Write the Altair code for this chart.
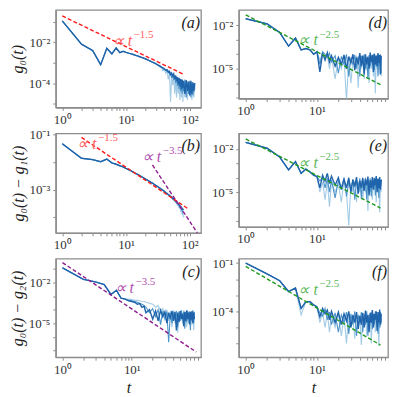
import altair as alt
import pandas as pd

# ---------------- data ----------------
T80 = [1, 2, 3, 4, 5, 6, 7, 8, 9, 10, 11, 12, 13, 14, 15, 16, 18, 20, 22, 24, 26, 28, 30,
       32, 34, 36, 38, 40, 42, 44, 46, 48, 50, 52, 54, 56, 58, 60, 62, 64, 66, 68, 70, 72,
       74, 76, 78, 80]
T120 = T80 + [84, 88, 92, 96, 100, 104, 108, 112, 116, 120]

# panel (a): g0(t)
A_head = [1.1e-1, 8e-3, 3.9e-3, 8e-4, 5e-3, 2.7e-3, 5.2e-3, 3.1e-3, 3.6e-3, 3.2e-3, 2.9e-3,
          2.7e-3, 2.5e-3, 2.3e-3, 2.15e-3, 2.0e-3, 1.75e-3, 1.55e-3, 1.35e-3, 1.2e-3,
          1.05e-3, 9.5e-4, 8.5e-4]
A_dark = [7.6e-4, 6.9e-4, 6.1e-4, 5.6e-4, 5.0e-4, 4.3e-4, 4.6e-4, 3.5e-4, 3.8e-4, 2.6e-4,
          3.1e-4, 2.2e-4, 2.8e-4, 1.6e-4, 2.4e-4, 1.3e-4, 2.0e-4, 9e-5, 1.8e-4, 7e-5,
          1.6e-4, 5e-5, 1.5e-4, 6e-5, 1.3e-4, 3e-5, 1.4e-4, 4e-5, 1.2e-4, 2.5e-5,
          1.3e-4, 3e-5, 1.1e-4, 4e-5, 1.0e-4]
A_mid = [7.2e-4, 6.5e-4, 6.2e-4, 5.0e-4, 4.6e-4, 4.4e-4, 3.6e-4, 3.9e-4, 2.8e-4, 3.2e-4,
         1.8e-4, 2.7e-4, 1.4e-4, 2.2e-4, 1.0e-4, 2.0e-4, 7e-5, 1.7e-4, 5e-5, 1.5e-4,
         4e-5, 1.4e-4, 3e-5, 1.2e-4, 4e-5, 1.5e-4, 2e-5, 1.2e-4, 3e-5, 1.3e-4,
         2e-5, 1.1e-4, 2.5e-5, 1.0e-4, 5e-5]
A_light = [7.8e-4, 6.0e-4, 5.5e-4, 4.0e-4, 4.8e-4, 3.0e-4, 4.0e-4, 1.5e-4, 3.2e-4, 1.2e-5,
           2.5e-4, 8e-5, 2.0e-4, 3e-5, 1.8e-4, 2e-5, 1.5e-4, 3e-5, 1.3e-4, 1.5e-5,
           1.2e-4, 2e-5, 1.4e-4, 1.2e-5, 1.1e-4, 2e-5, 1.2e-4, 1.5e-5, 1e-4, 3e-5,
           1.1e-4, 1.5e-5, 9e-5, 2e-5, 8e-5]
A_fit_t = [1, 80]
A_fit_v = [0.19, 2.7e-4]

# panel (b): g0(t) - g1(t)
B_head = [4.7e-2, 1.4e-2, 1.25e-2, 1.05e-2, 1.3e-2, 9.5e-3, 8.5e-3, 7.5e-3, 6.8e-3, 6.0e-3,
          5.4e-3, 4.9e-3, 4.4e-3, 4.0e-3, 3.7e-3, 3.4e-3, 2.9e-3, 2.5e-3, 2.2e-3, 1.95e-3,
          1.75e-3, 1.55e-3, 1.4e-3, 1.27e-3, 1.15e-3, 1.05e-3, 9.6e-4, 8.8e-4]
B_dark = [8.0e-4, 7.4e-4, 6.8e-4, 6.3e-4, 5.8e-4, 5.4e-4, 5.0e-4, 4.7e-4, 4.3e-4, 4.0e-4,
          3.7e-4, 3.4e-4, 3.2e-4, 2.9e-4, 2.7e-4, 2.5e-4, 2.3e-4, 2.15e-4, 2.0e-4, 1.85e-4]
B_mid = [7.8e-4, 7.5e-4, 6.5e-4, 6.4e-4, 5.4e-4, 5.5e-4, 4.6e-4, 4.8e-4, 3.9e-4, 4.0e-4,
         3.3e-4, 3.4e-4, 2.8e-4, 2.9e-4, 2.3e-4, 2.4e-4, 1.9e-4, 2.0e-4, 1.5e-4, 1.6e-4]
B_light = [7.6e-4, 7.0e-4, 6.6e-4, 5.8e-4, 5.6e-4, 4.9e-4, 4.7e-4, 4.1e-4, 4.0e-4, 3.4e-4,
           3.3e-4, 2.8e-4, 2.7e-4, 2.2e-4, 2.2e-4, 1.7e-4, 1.8e-4, 1.3e-4, 1.4e-4, 1.0e-4]
B_fit1_t = [2, 93]
B_fit1_v = [0.08, 2.1e-4]
B_fit2_t = [26, 135]
B_fit2_v = [8e-3, 2.5e-5]

# panel (c): g0(t) - g2(t)
C_head = [1.2e-1, 1.7e-2, 1.1e-2, 7e-3, 1.3e-3, 2.7e-3, 7e-4, 6e-4]
C_dark = [4.5e-4, 4e-4, 3.5e-4, 2.5e-4, 2.8e-4, 1.5e-4, 1.8e-4, 6e-5, 1e-4, 2e-5,
          8e-5, 1.5e-5, 9e-5, 3e-5, 7e-5, 1e-5, 6e-5, 2e-5, 8e-5, 1.5e-5,
          7e-5, 3e-6, 6e-5, 1.2e-5, 8e-5, 2e-5, 5e-5, 6e-6, 7e-5, 1.5e-5,
          9e-5, 2e-5, 6e-5, 8e-6, 7e-5, 1.8e-5, 8e-5, 1e-5, 6e-5, 2e-5]
C_mid = [5e-4, 4.5e-4, 4e-4, 3.5e-4, 3e-4, 2.5e-4, 2e-4, 1.5e-4, 6e-5, 1.2e-4,
         3e-5, 1e-4, 8e-6, 8e-5, 2e-5, 7e-5, 4e-7, 6e-5, 1e-5, 7e-5,
         2e-5, 8e-5, 5e-6, 7e-5, 1.5e-5, 9e-5, 2e-5, 7e-5, 4e-6, 6e-5,
         1.2e-5, 8e-5, 2.5e-5, 7e-5, 3e-6, 6e-5, 1.5e-5, 9e-5, 1e-5, 7e-5]
C_light = [6e-4, 5.5e-4, 5e-4, 4.8e-4, 4.5e-4, 4.2e-4, 4e-4, 3.5e-4, 3e-4, 2.5e-4,
           1.5e-4, 2e-4, 8e-5, 1.2e-4, 3e-5, 1e-4, 1.5e-5, 8e-5, 5e-6, 9e-5,
           1e-5, 7e-5, 2e-6, 8e-5, 2e-5, 6e-5, 1e-5, 9e-5, 2e-5, 7e-5,
           5e-6, 6e-5, 1e-5, 8e-5, 2e-5, 7e-5, 8e-6, 6e-5, 3e-6, 5e-5]
C_fit_t = [1, 85]
C_fit_v = [0.29, 7.6e-8]

# panel (d)
D_head = [2.8e-2, 1.25e-2, 3.2e-3, 3.6e-4, 1.3e-3, 2e-4, 2.5e-4, 2e-4, 1e-4, 1.5e-4]
D_dark = [6e-6, 1.2e-4, 4e-5, 1.3e-4, 3e-5, 8e-5, 1.5e-5, 6e-5, 2e-5, 9e-5,
          1e-5, 7e-5, 2.5e-5, 1e-4, 8e-6, 6e-5, 2e-5, 1.2e-4, 1.5e-5, 8e-5,
          4e-6, 1e-4, 2e-5, 7e-5, 1e-5, 1.3e-4, 3e-5, 9e-5, 6e-6, 1.1e-4,
          2e-5, 8e-5, 1.5e-5, 1.2e-4, 2.5e-5, 9e-5, 4e-6, 8e-5]
D_mid = [2e-5, 1.5e-4, 1e-4, 6e-5, 1.2e-4, 3e-5, 8e-5, 5e-6, 7e-5, 2e-5,
         1e-4, 3e-6, 6e-5, 2e-5, 9e-5, 1e-5, 7e-5, 3e-6, 8e-5, 2e-5,
         1e-4, 1e-5, 6e-5, 2e-6, 9e-5, 1.5e-5, 7e-5, 2e-5, 1e-4, 8e-6,
         8e-5, 1.5e-5, 9e-5, 3e-6, 7e-5, 2e-5, 1e-4, 5e-6]
D_light = [4e-5, 1e-4, 6e-5, 9e-5, 1e-5, 7e-5, 2e-6, 5e-5, 1e-5, 6e-5,
           6e-8, 5e-5, 1e-6, 4e-5, 2e-5, 8e-5, 5e-7, 6e-5, 1e-5, 7e-5,
           2e-6, 5e-5, 8e-6, 6e-5, 1e-6, 4e-5, 1e-5, 7e-5, 3e-6, 5e-5,
           2e-7, 6e-5, 1e-5, 5e-5, 4e-6, 7e-5, 1e-5, 3e-6]
D_fit_t = [1, 78]
D_fit_v = [0.052, 8e-7]

# panel (e)
E_head = [2.8e-2, 1.1e-2, 2.7e-3, 3.5e-4, 1.3e-3, 2e-4, 4e-4, 2.5e-4, 1.5e-4, 1.2e-4]
E_dark = [2e-5, 1.5e-4, 6e-5, 2e-4, 4e-5, 1.3e-4, 3e-5, 1e-4, 1.5e-5, 8e-5,
          2e-5, 1e-4, 1e-5, 7e-5, 2.5e-5, 1.1e-4, 8e-6, 6e-5, 2e-5, 1e-4,
          1.2e-5, 8e-5, 3e-5, 1.2e-4, 6e-6, 7e-5, 2e-5, 1.1e-4, 1.5e-5, 9e-5,
          3e-5, 1.3e-4, 1e-5, 8e-5, 2e-5, 1.1e-4, 1.5e-5, 7e-5]
E_mid = [6e-5, 1e-4, 2e-5, 9e-5, 1e-5, 7e-5, 4e-6, 6e-5, 2e-5, 9e-5,
         5e-6, 5e-5, 1.5e-5, 8e-5, 3e-6, 6e-5, 2e-5, 9e-5, 4e-6, 7e-5,
         1.5e-5, 1e-4, 3e-6, 6e-5, 2e-5, 9e-5, 5e-6, 7e-5, 2e-5, 1e-4,
         6e-6, 6e-5, 2e-5, 9e-5, 4e-6, 6e-5, 2e-5, 8e-5]
E_light = [1e-5, 5e-5, 3e-6, 6e-5, 1e-6, 5e-5, 1e-5, 4e-5, 2e-6, 6e-5,
           1e-5, 5e-8, 4e-5, 1e-5, 6e-5, 2e-6, 5e-5, 1e-5, 7e-5, 3e-6,
           5e-5, 1e-5, 6e-5, 5e-7, 5e-5, 1e-5, 6e-5, 3e-6, 5e-5, 1.5e-5,
           7e-5, 2e-6, 5e-5, 1e-5, 6e-5, 4e-7, 5e-5, 1e-5]
E_fit_t = [1, 78]
E_fit_v = [0.048, 8e-7]

# panel (f)
F_head = [1.0e-1, 2.1e-2, 8e-3, 1.7e-3, 2.8e-3, 1.5e-4, 4e-4, 4e-4, 2.5e-4, 1.9e-4]
F_head_light = [1.0e-1, 2.1e-2, 8e-3, 1.7e-3, 2.8e-3, 6e-5, 4e-4, 3.5e-4, 2.5e-4, 1.9e-4]
F_dark = [4.5e-5, 1.5e-4, 7e-5, 1.2e-4, 3e-5, 1e-4, 2e-5, 9e-5, 1.5e-5, 7e-5,
          2.5e-5, 1e-4, 1e-5, 6e-5, 2e-5, 9e-5, 8e-6, 5e-5, 1.5e-5, 8e-5,
          1e-5, 1.1e-4, 2e-5, 6e-5, 5e-6, 8e-5, 2e-5, 1.2e-4, 1e-5, 7e-5,
          3e-5, 1e-4, 6e-6, 9e-5, 2e-5, 1.3e-4, 1.5e-5, 7e-5]
F_mid = [8e-5, 5e-5, 1.5e-4, 3e-5, 9e-5, 1.5e-5, 8e-5, 5e-6, 6e-5, 2e-5,
         9e-5, 4e-6, 7e-5, 1.5e-5, 1e-4, 3e-6, 6e-5, 2e-5, 9e-5, 5e-6,
         7e-5, 1.5e-5, 1e-4, 3e-6, 6e-5, 2e-5, 9e-5, 8e-6, 7e-5, 1.5e-5,
         1e-4, 2e-5, 6e-5, 4e-6, 8e-5, 1e-5, 9e-5, 2e-5]
F_light = [2e-5, 9e-5, 1e-5, 8e-5, 5e-6, 6e-5, 1e-5, 7e-5, 3e-6, 5e-5,
           1e-6, 6e-5, 1e-5, 4e-5, 2e-6, 5e-5, 1e-5, 6e-5, 8e-7, 4e-5,
           1e-5, 6e-5, 3e-6, 5e-5, 1e-5, 7e-5, 1e-6, 4e-5, 1e-5, 6e-5,
           5e-6, 5e-5, 1e-5, 6e-5, 7e-7, 5e-5, 1e-5, 4e-5]
F_fit_t = [1, 78]
F_fit_v = [0.062, 8e-7]

X_TICKS = [1, 2, 3, 4, 5, 6, 7, 8, 9, 10, 20, 30, 40, 50, 60, 70, 80, 90, 100, 200]

# ---------------- styling ----------------
SERIF = "Liberation Serif"
DARK, MID, LIGHT = "#1f63ab", "#4b93c9", "#a3cbe6"
RED, PURPLE, GREEN = "#ff1a1a", "#8e1b8e", "#1f9a1f"
RED_T, PURPLE_T, GREEN_T = "#ff5c5c", "#b050b0", "#5cb85c"
SUP = "⁰¹²³⁴⁵⁶⁷⁸⁹"


def label_expr(labels=None):
    e = "round(log(datum.value)/LN10)"
    txt = f"'10' + ({e} < 0 ? '⁻' : '') + substring('{SUP}', abs({e}), abs({e}) + 1)"
    if labels is None:
        cond = f"abs(log(datum.value)/LN10 - {e}) < 0.001"
    else:
        cond = "indexof([" + ",".join(repr(v) for v in labels) + "], datum.value) >= 0"
    return f"({cond}) ? ({txt}) : ''"


def panel(t_all, heads, tails, fits, annos, letter, xdom, ydom, yticks, ylabels,
          ytitle, xtitle, w, h):
    n_head = len(heads[0])
    xt = [v for v in X_TICKS if xdom[0] <= v <= xdom[1]]
    xenc = alt.X("t:Q", scale=alt.Scale(type="log", domain=xdom),
                 axis=alt.Axis(values=xt, labelExpr=label_expr(), title=xtitle))
    yenc = alt.Y("v:Q", scale=alt.Scale(type="log", domain=ydom),
                 axis=alt.Axis(values=yticks, labelExpr=label_expr(ylabels), title=ytitle))
    layers = []
    for (tail, color, sw), head in zip(tails, heads):
        df = pd.DataFrame({"t": t_all[:n_head + len(tail)], "v": head + tail})
        layers.append(alt.Chart(df).mark_line(color=color, strokeWidth=sw, clip=True)
                      .encode(x=xenc, y=yenc))
    for ft, fv, fc in fits:
        df = pd.DataFrame({"t": ft, "v": fv})
        layers.append(alt.Chart(df).mark_line(color=fc, strokeWidth=1.4, strokeDash=[4, 2.2],
                                              clip=True).encode(x=xenc, y=yenc))
    for at, av, exp, col in annos:
        df = pd.DataFrame({"t": [at], "v": [av]})
        layers.append(alt.Chart(df).mark_text(text="∝ t", align="left", baseline="middle",
                                              font=SERIF, fontSize=16, fontStyle="italic",
                                              color=col).encode(x=xenc, y=yenc))
        layers.append(alt.Chart(df).mark_text(text=exp, align="left", baseline="middle",
                                              font=SERIF, fontSize=11, dx=21, dy=-6,
                                              color=col).encode(x=xenc, y=yenc))
    lab = pd.DataFrame({"k": [0]})
    layers.append(alt.Chart(lab).mark_text(text=letter, align="right", baseline="middle",
                                           font=SERIF, fontSize=16, fontStyle="italic",
                                           color="#222")
                  .encode(x=alt.value(w - 1), y=alt.value(13)))
    return alt.layer(*layers).properties(width=w, height=h)


WL, WR = 146, 150
XR = [0.8, 99.5]

pa = panel(T120, [A_head] * 3,
           [(A_light, LIGHT, 1.1), (A_mid, MID, 1.1), (A_dark, DARK, 1.4)],
           [(A_fit_t, A_fit_v, RED)],
           [(6.2, 1.1e-2, "−1.5", RED_T)], "(a)",
           [0.79, 150], [10 ** -5.19, 10 ** -0.43],
           [1e-1, 1e-2, 1e-3, 1e-4, 1e-5], [1e-2, 1e-4], "g₀(t)", None, WL, 98)

pb = panel(T80, [B_head] * 3,
           [(B_light, LIGHT, 1.1), (B_mid, MID, 1.1), (B_dark, DARK, 1.4)],
           [(B_fit1_t, B_fit1_v, RED), (B_fit2_t, B_fit2_v, PURPLE)],
           [(1.71, 4.5e-2, "−1.5", RED_T), (17.7, 1.6e-2, "−3.5", PURPLE_T)], "(b)",
           [0.79, 150], [10 ** -4.56, 10 ** -0.95],
           [1e-1, 1e-2, 1e-3, 1e-4], [1e-1, 1e-3], "g₀(t) − g₁(t)", None, WL, 100)

pc = panel(T80, [C_head] * 3,
           [(C_light, LIGHT, 1.1), (C_mid, MID, 1.1), (C_dark, DARK, 1.4)],
           [(C_fit_t, C_fit_v, PURPLE)],
           [(5.65, 3.8e-3, "−3.5", PURPLE_T)], "(c)",
           XR, [10 ** -7.5, 10 ** -0.25],
           [1e-1, 1e-2, 1e-3, 1e-4, 1e-5, 1e-6, 1e-7], [1e-2, 1e-5], "g₀(t) − g₂(t)", "t",
           WL, 99)

pd_ = panel(T80, [D_head] * 3,
            [(D_light, LIGHT, 1.1), (D_mid, MID, 1.1), (D_dark, DARK, 1.4)],
            [(D_fit_t, D_fit_v, GREEN)],
            [(5.5, 8.9e-4, "−2.5", GREEN_T)], "(d)",
            XR, [10 ** -7.05, 10 ** -0.95],
            [1e-2, 1e-3, 1e-4, 1e-5, 1e-6, 1e-7], [1e-2, 1e-5], None, None, WR, 89)

pe = panel(T80, [E_head] * 3,
           [(E_light, LIGHT, 1.1), (E_mid, MID, 1.1), (E_dark, DARK, 1.4)],
           [(E_fit_t, E_fit_v, GREEN)],
           [(5.5, 1.07e-3, "−2.5", GREEN_T)], "(e)",
           XR, [10 ** -7.4, 10 ** -0.93],
           [1e-2, 1e-3, 1e-4, 1e-5, 1e-6, 1e-7], [1e-2, 1e-5], None, None, WR, 94)

pf = panel(T80, [F_head_light, F_head, F_head],
           [(F_light, LIGHT, 1.1), (F_mid, MID, 1.1), (F_dark, DARK, 1.4)],
           [(F_fit_t, F_fit_v, GREEN)],
           [(5.5, 2.2e-3, "−2.5", GREEN_T)], "(f)",
           XR, [10 ** -6.85, 10 ** -0.73],
           [1e-1, 1e-2, 1e-3, 1e-4, 1e-5, 1e-6], [1e-1, 1e-4], None, "t", WR, 99)

chart = (alt.concat(pa, pd_, pb, pe, pc, pf, columns=2, bounds="flush",
                    spacing={"row": 26, "column": 38}, padding=0)
         .configure_view(stroke="#8c8c8c", strokeWidth=1.3)
         .configure_axis(grid=False, labelFont=SERIF, labelFontSize=13, labelColor="#333",
                         titleFont=SERIF, titleFontSize=16, titleFontStyle="italic",
                         titleFontWeight="normal", titleColor="#222",
                         domainColor="#8c8c8c", domainWidth=1.3, tickColor="#8c8c8c",
                         tickSize=3, labelPadding=3, titlePadding=3, labelFlush=False,
                         labelOverlap=False))

chart.save("out.html", embed_options={"renderer": "svg", "actions": False})
